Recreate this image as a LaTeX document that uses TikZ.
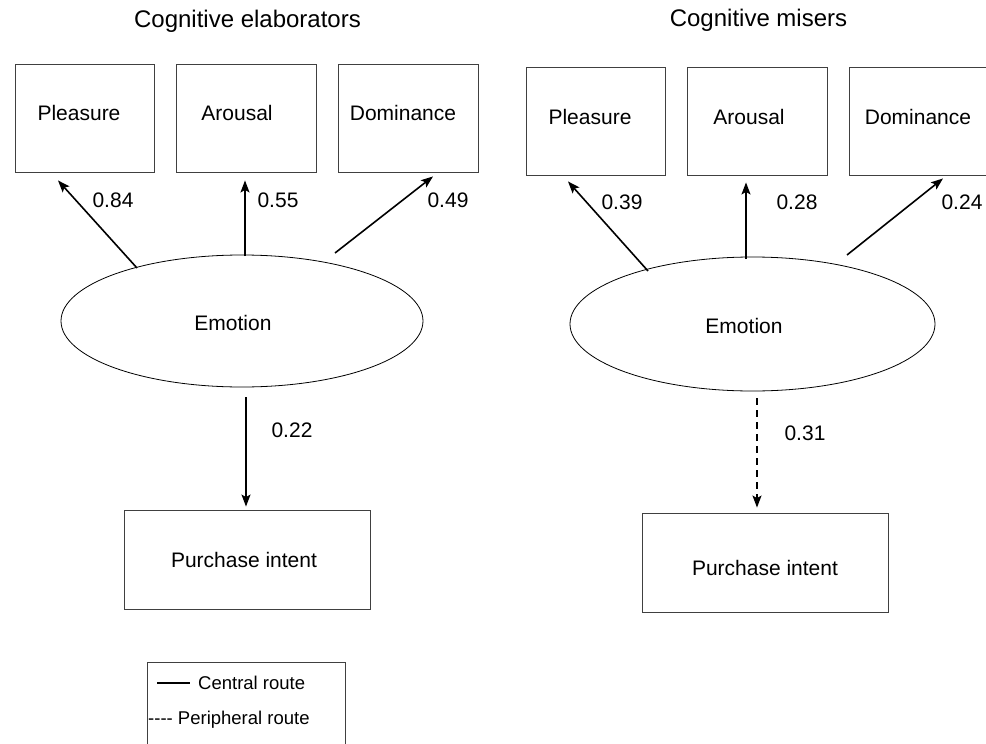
\documentclass[tikz,border=0pt]{standalone}
\usepackage{fontspec}
\setmainfont{Liberation Sans}
\usetikzlibrary{arrows.meta,calc,shapes.geometric}
\begin{document}
\begin{tikzpicture}[x=1pt,y=-1pt,
  box/.style={draw=black!75, line width=0.9pt, rectangle, inner sep=0pt},
  ell/.style={draw=black, line width=0.8pt, ellipse, inner sep=0pt},
  txt/.style={font=\fontsize{21}{25}\selectfont, inner sep=0pt},
  ttl/.style={font=\fontsize{24}{29}\selectfont, inner sep=0pt},
  legtxt/.style={font=\fontsize{18.5}{22}\selectfont, inner sep=0pt, anchor=west},
  path/.style={line width=1.6pt, -{Stealth[length=12pt,width=9pt,inset=2.5pt]}},
  central/.style={path},
  peripheral/.style={path, dash pattern=on 7pt off 5pt}
]
\useasboundingbox (0,0) rectangle (986,744);

% ---------- left panel: cognitive elaborators ----------
\node[ttl] (titleL) at (247.5,21) {Cognitive elaborators};

\node[box, minimum width=139pt, minimum height=108pt] (plL)  at (84.5,118) {};
\node[box, minimum width=140pt, minimum height=108pt] (arL)  at (246,118) {};
\node[box, minimum width=140pt, minimum height=108pt] (domL) at (408,118) {};
\node[txt] (plLt)  at (79,113)  {Pleasure};
\node[txt] (arLt)  at (237,113) {Arousal};
\node[txt] (domLt) at (403,113) {Dominance};

\node[ell, minimum width=362pt, minimum height=132pt] (emoL) at (242,321) {};
\node[txt] (emoLt) at (233,323) {Emotion};

\node[box, minimum width=246pt, minimum height=99pt] (piL) at (247,559.5) {};
\node[txt] (piLt) at (244,560) {Purchase intent};

\draw[central] ($(emoL.center)+(-105,-53)$) -- ($(plL.south)+(-26.5,8)$);
\draw[central] ($(emoL.center)+(3,-65)$)    -- ($(arL.south)+(-1,8)$);
\draw[central] ($(emoL.center)+(93,-68)$)   -- ($(domL.south)+(25,4)$);
\draw[central] ($(emoL.center)+(4,76)$)     -- ($(piL.north)+(-1,-3)$);

\node[txt] (wPlL)  at (113,200) {0.84};
\node[txt] (wArL)  at (278,200) {0.55};
\node[txt] (wDomL) at (448,200) {0.49};
\node[txt] (wPiL)  at (292,430) {0.22};

% ---------- right panel: cognitive misers ----------
\node[ttl] (titleR) at (758.5,20) {Cognitive misers};

\node[box, minimum width=139pt, minimum height=108pt] (plR)  at (595.5,121) {};
\node[box, minimum width=140pt, minimum height=108pt] (arR)  at (757,121) {};
\node[box, minimum width=140pt, minimum height=108pt] (domR) at (919,121) {};
\node[txt] (plRt)  at (590,117) {Pleasure};
\node[txt] (arRt)  at (749,117) {Arousal};
\node[txt] (domRt) at (918,117) {Dominance};

\node[ell, minimum width=365pt, minimum height=134pt] (emoR) at (752.5,324) {};
\node[txt] (emoRt) at (744,326) {Emotion};

\node[box, minimum width=246pt, minimum height=99pt] (piR) at (765,562.5) {};
\node[txt] (piRt) at (765,568) {Purchase intent};

\draw[central] ($(emoR.center)+(-104.5,-53)$) -- ($(plR.south)+(-27.5,6)$);
\draw[central] ($(emoR.center)+(-6.5,-65)$)   -- ($(arR.south)+(-11,7)$);
\draw[central] ($(emoR.center)+(94.5,-69)$)   -- ($(domR.south)+(24,3)$);
\draw[peripheral] ($(emoR.center)+(4.5,74)$)  -- ($(piR.north)+(-8,-5)$);

\node[txt] (wPlR)  at (622,202) {0.39};
\node[txt] (wArR)  at (797,202) {0.28};
\node[txt] (wDomR) at (962,202) {0.24};
\node[txt] (wPiR)  at (805,433) {0.31};

% ---------- legend ----------
\node[box, anchor=north west, minimum width=198pt, minimum height=110pt] (leg) at (147,662) {};
\draw[line width=1.6pt] ($(leg.north west)+(10,21)$) coordinate (legA) -- ($(leg.north west)+(43,21)$) coordinate (legB);
\node[legtxt] (legC) at ($(leg.north west)+(51,21)$) {Central route};
\node[legtxt] (legP) at ($(leg.north west)+(1,58)$) {\mbox{-}\mbox{-}\mbox{-}\mbox{-} Peripheral route};
\end{tikzpicture}
\end{document}
